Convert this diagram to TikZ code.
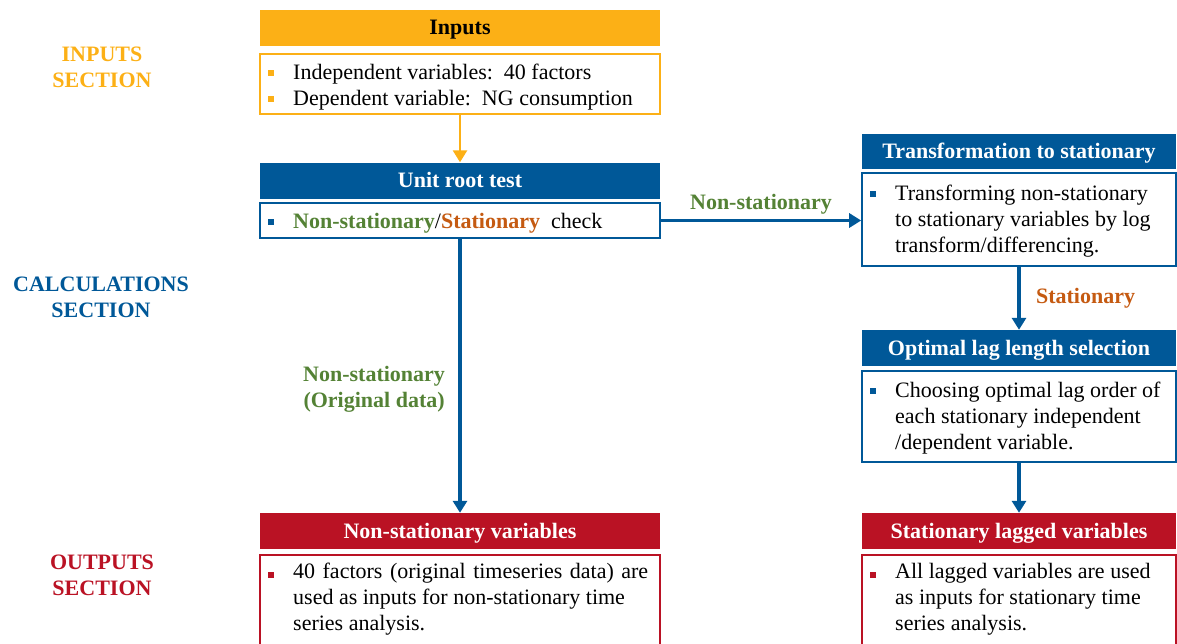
\documentclass[tikz,border=0pt]{standalone}
\usepackage{fontspec}
\setmainfont{Liberation Serif}
\usetikzlibrary{arrows.meta}
\definecolor{cOrange}{RGB}{252,176,22}
\definecolor{cBlue}{RGB}{0,88,152}
\definecolor{cRed}{RGB}{186,18,36}
\definecolor{cGreen}{RGB}{84,130,53}
\definecolor{cBrown}{RGB}{197,90,17}
\newcommand{\bodyfont}{\fontsize{22}{26}\selectfont}
\newcommand{\hdrfont}{\fontsize{22}{26}\selectfont\bfseries}
\begin{document}
\begin{tikzpicture}[x=1pt,y=-1pt,
  hdr/.style={draw=none,fill=#1,minimum width=400pt,minimum height=36pt,inner sep=0pt,font=\hdrfont,text depth=1pt},
  bodybox/.style={draw=#1,fill=white,line width=1.6pt,minimum width=400pt,inner sep=0pt},
  btxt/.style={anchor=west,inner sep=0pt,align=left,font=\bodyfont},
  bul/.style={fill=#1,minimum size=6pt,inner sep=0pt},
  sect/.style={font=\hdrfont,align=center,text=#1},
  elab/.style={font=\hdrfont,align=center,text=#1},
  conn/.style={draw=#1,line width=3.4pt,-{Triangle[length=12pt,width=14pt]}}
]
\useasboundingbox (0,0) rectangle (1177,643);
% section labels
\node[sect=cOrange] (sin) at (102,67) {INPUTS\\SECTION};
\node[sect=cBlue] (sca) at (101,297) {CALCULATIONS\\SECTION};
\node[sect=cRed] (sou) at (102,575) {OUTPUTS\\SECTION};
% inputs
\node[hdr=cOrange,text=black] (inh) at (460,28) {Inputs};
\node[bodybox=cOrange,minimum height=60pt] (inb) at (460,84) {};
\node[bul=cOrange] (inb1) at (271,73) {};
\node[bul=cOrange] (inb2) at (271,99) {};
\node[btxt] (int) at (293,87) {Independent variables:\ \ 40 factors\\Dependent variable:\ \ NG consumption};
% unit root
\node[hdr=cBlue,text=white] (urh) at (460,180.5) {Unit root test};
\node[bodybox=cBlue,minimum height=35pt] (urb) at (460,220.5) {};
\node[bul=cBlue] (urb1) at (271,222) {};
\node[btxt] (urt) at (293,223) {\textbf{\color{cGreen}Non-stationary}/\textbf{\color{cBrown}Stationary}\ \ check};
% transformation
\node[hdr=cBlue,text=white,minimum width=314pt,minimum height=35pt] (trh) at (1019,151) {Transformation to stationary};
\node[bodybox=cBlue,minimum width=314pt,minimum height=93pt] (trb) at (1019,219.5) {};
\node[bul=cBlue] (trb1) at (873,194) {};
\node[btxt] (trt) at (895,221.5) {Transforming non-stationary\\to stationary variables by log\\transform/differencing.};
% optimal lag
\node[hdr=cBlue,text=white,minimum width=314pt,minimum height=36pt] (olh) at (1019,348) {Optimal lag length selection};
\node[bodybox=cBlue,minimum width=314pt,minimum height=91pt] (olb) at (1019,416.5) {};
\node[bul=cBlue] (olb1) at (873,391) {};
\node[btxt] (olt) at (895,418.5) {Choosing optimal lag order of\\each stationary independent\\/dependent variable.};
% outputs
\node[hdr=cRed,text=white] (nsh) at (460,531) {Non-stationary variables};
\node[bodybox=cRed,minimum height=100pt,anchor=north] (nsb) at (460,554) {};
\node[bul=cRed] (nsb1) at (271,575) {};
\node[btxt,anchor=north west] (nst) at (293,563) {\makebox[355pt][s]{40 factors (original timeseries data) are}\\used as inputs for non-stationary time\\series analysis.};
\node[hdr=cRed,text=white,minimum width=314pt] (slh) at (1019,531) {Stationary lagged variables};
\node[bodybox=cRed,minimum width=314pt,minimum height=100pt,anchor=north] (slb) at (1019,554) {};
\node[bul=cRed] (slb1) at (873,575) {};
\node[btxt,anchor=north west] (slt) at (895,563) {All lagged variables are used\\as inputs for stationary time\\series analysis.};
% connectors
\draw[conn=cOrange,line width=2.6pt] (inb.south) -- (urh.north);
\draw[conn=cBlue] (urb.east) -- (urb.east -| trb.west) node[pos=0.5,above=1pt,elab=cGreen] (l1) {Non-stationary};
\draw[conn=cBlue] (urb.south) -- (nsh.north) node[pos=0.55,left=10pt,elab=cGreen] (l2) {Non-stationary\\(Original data)};
\draw[conn=cBlue] (trb.south) -- (olh.north) node[pos=0.5,right=12pt,elab=cBrown] (l3) {Stationary};
\draw[conn=cBlue] (olb.south) -- (slh.north);
\end{tikzpicture}
\end{document}
